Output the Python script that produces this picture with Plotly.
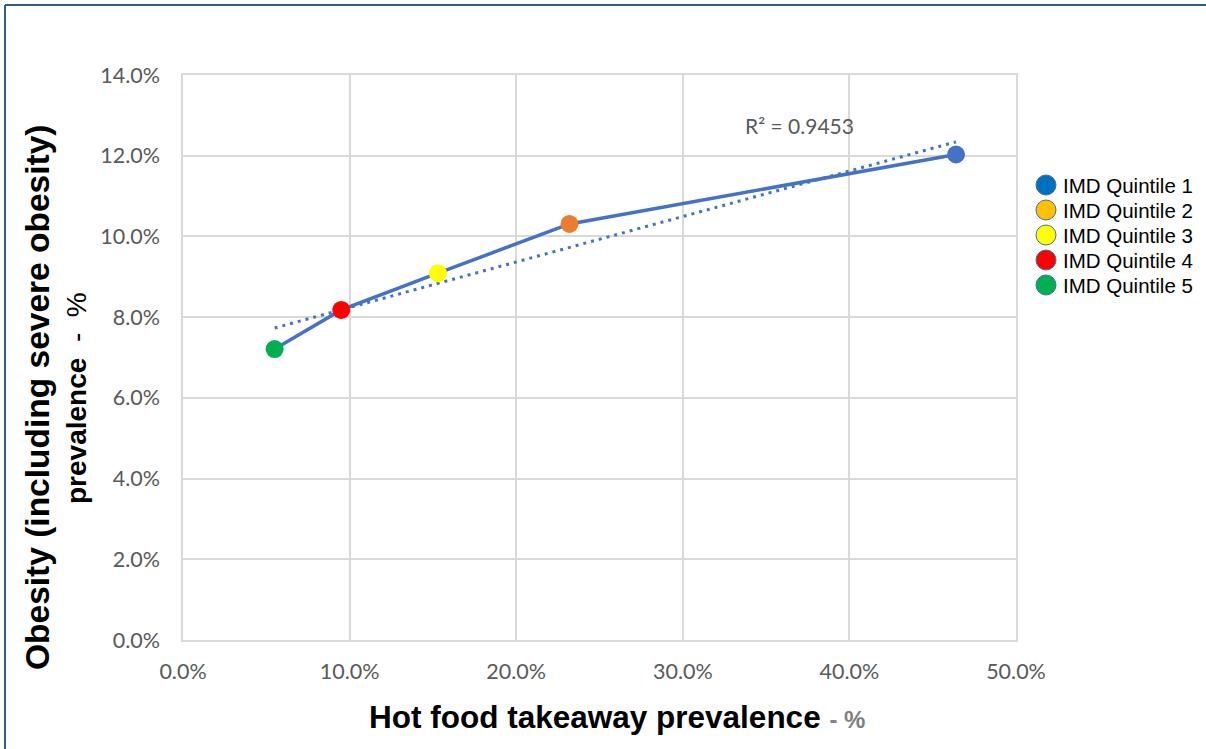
import numpy as np
import plotly.graph_objects as go

# ---- data ----
quintiles = ["IMD Quintile 1", "IMD Quintile 2", "IMD Quintile 3", "IMD Quintile 4", "IMD Quintile 5"]
takeaway_pct = [46.4, 23.2, 15.3, 9.5, 5.5]      # x: hot food takeaway prevalence (%)
obesity_pct = [12.03, 10.31, 9.09, 8.18, 7.21]   # y: obesity prevalence (%)
point_colors = ["#4472C4", "#ED7D31", "#FFFF00", "#FF0000", "#00B050"]
legend_colors = ["#0070C0", "#FFC000", "#FFFF00", "#FF0000", "#00B050"]
r2_label = "R² = 0.9453"
x_ticks = [0, 10, 20, 30, 40, 50]
y_ticks = [0, 2, 4, 6, 8, 10, 12, 14]

# plot area in pixels
W, H = 1206, 749
L, R, T, B = 183, 1016, 75, 640

fig = go.Figure()

# connecting line (ordered by x)
order = np.argsort(takeaway_pct)
xs = [takeaway_pct[i] for i in order]
ys = [obesity_pct[i] for i in order]
fig.add_trace(go.Scatter(x=xs, y=ys, mode="lines",
                         line=dict(color="#4472C4", width=3.5),
                         showlegend=False, hoverinfo="skip"))

# linear trendline
slope, intercept = np.polyfit(takeaway_pct, obesity_pct, 1)
tx = [min(takeaway_pct), max(takeaway_pct)]
ty = [slope * v + intercept for v in tx]
fig.add_trace(go.Scatter(x=tx, y=ty, mode="lines",
                         line=dict(color="#4472C4", width=3, dash="3px,5px"),
                         showlegend=False, hoverinfo="skip"))

# plotted markers
for name, x, y, c in zip(quintiles, takeaway_pct, obesity_pct, point_colors):
    fig.add_trace(go.Scatter(x=[x], y=[y], mode="markers", name=name,
                             marker=dict(color=c, size=18, line=dict(width=0)),
                             showlegend=False))

grid = "#D9D9D9"
tickfont = dict(family="Lato, Calibri, sans-serif", size=21.5, color="#595959")
fig.update_xaxes(range=[0, 50], tickvals=x_ticks, ticktext=[f"{v:.1f}%" for v in x_ticks],
                 showgrid=True, gridcolor=grid, gridwidth=1.5, zeroline=False,
                 showline=True, linecolor=grid, linewidth=1.5, mirror=True,
                 ticks="outside", ticklen=11, tickcolor="rgba(0,0,0,0)",
                 tickfont=tickfont)
fig.update_yaxes(range=[0, 14], tickvals=y_ticks, ticktext=[f"{v:.1f}%" for v in y_ticks],
                 showgrid=True, gridcolor=grid, gridwidth=1.5, zeroline=False,
                 showline=True, linecolor=grid, linewidth=1.5, mirror=True,
                 ticks="outside", ticklen=17, tickcolor="rgba(0,0,0,0)",
                 tickfont=tickfont)

def px_x(p):
    return (p - L) / (R - L)

def px_y(p):
    return (B - p) / (B - T)

arial = "Arial, Liberation Sans, sans-serif"
annotations = [
    dict(text=r2_label, x=37.0, y=12.74, xref="x", yref="y", showarrow=False,
         font=dict(family="Lato, Calibri, sans-serif", size=21, color="#595959")),
    dict(text="<b>Hot food takeaway prevalence</b> <span style='font-size:24px;color:#7F7F7F'><b>- %</b></span>",
         x=px_x(617), y=px_y(717), xref="paper", yref="paper", showarrow=False,
         xanchor="center", yanchor="middle",
         font=dict(family=arial, size=31.5, color="#000000")),
    dict(text="<b>Obesity (including severe obesity)</b>",
         x=px_x(37), y=px_y(398), xref="paper", yref="paper", showarrow=False, textangle=-90,
         xanchor="center", yanchor="middle",
         font=dict(family=arial, size=33.5, color="#000000")),
    dict(text="<b>prevalence</b>&nbsp; -&nbsp; %",
         x=px_x(76), y=px_y(398), xref="paper", yref="paper", showarrow=False, textangle=-90,
         xanchor="center", yanchor="middle",
         font=dict(family=arial, size=28, color="#000000")),
]

border = "#2E5E82"
shapes = [
    dict(type="line", xref="paper", yref="paper", x0=px_x(5), x1=px_x(W + 5), y0=px_y(5), y1=px_y(5),
         line=dict(color=border, width=2)),
    dict(type="line", xref="paper", yref="paper", x0=px_x(5), x1=px_x(5), y0=px_y(5), y1=px_y(H + 5),
         line=dict(color=border, width=2)),
]

# manual legend (markers + labels)
leg_x, leg_y0, leg_dy, leg_r = 1046, 185, 25, 10
for i, (name, c) in enumerate(zip(quintiles, legend_colors)):
    cy = leg_y0 + i * leg_dy
    shapes.append(dict(type="circle", xref="paper", yref="paper",
                       x0=px_x(leg_x - leg_r), x1=px_x(leg_x + leg_r),
                       y0=px_y(cy + leg_r), y1=px_y(cy - leg_r),
                       fillcolor=c, line=dict(color="#41719C", width=1)))
    annotations.append(dict(text=name, x=px_x(leg_x + 15), y=px_y(cy), xref="paper", yref="paper",
                            showarrow=False, xanchor="left", yanchor="middle",
                            font=dict(family=arial, size=20.5, color="#000000")))

fig.update_layout(
    width=W, height=H,
    margin=dict(l=L, r=W - R, t=T, b=H - B, autoexpand=False),
    paper_bgcolor="white", plot_bgcolor="white",
    annotations=annotations, shapes=shapes,
    showlegend=False,
)

fig.write_html("out.html", config={"displayModeBar": False},
               post_script="document.body.style.margin='0';document.body.style.overflow='hidden';")
